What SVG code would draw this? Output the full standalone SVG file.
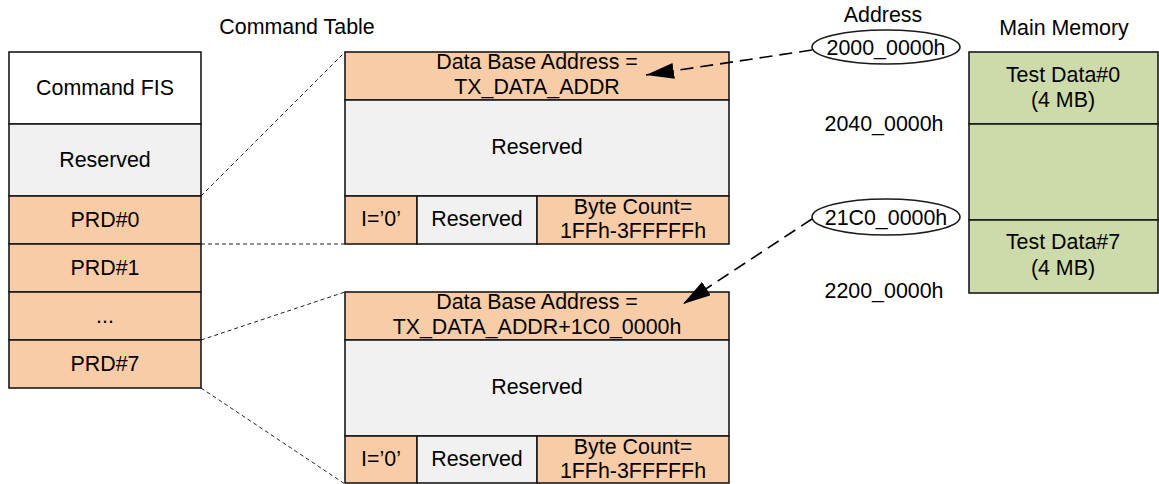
<svg xmlns="http://www.w3.org/2000/svg" width="1159" height="484" viewBox="0 0 1159 484">
<style>
text{font-family:"Liberation Sans",Arial,sans-serif;font-size:21.4px;fill:#000;text-anchor:middle}
.b{stroke:#1a1a1a;stroke-width:1.6}
.p{fill:#F9CCA8}
.g{fill:#F1F1F1}
.w{fill:#FFFFFF}
.m{fill:#CDDAAA}
.thin{stroke:#222;stroke-width:1;stroke-dasharray:4 3;fill:none}
.arr{stroke:#000;stroke-width:1.6;stroke-dasharray:13 7;fill:none}
</style>
<defs>
<marker id="ah" markerUnits="userSpaceOnUse" markerWidth="32" markerHeight="18" refX="28" refY="8" orient="auto">
<path d="M0,0 L28,8 L0,16 Z" fill="#000"/>
</marker>
</defs>
<text x="297" y="34">Command Table</text>
<text x="883" y="22">Address</text>
<text x="1064" y="35">Main Memory</text>

<g id="cmd-fis"><rect class="b w" x="9" y="52" width="192" height="72"/><text x="105" y="95">Command FIS</text></g>
<g id="cmd-reserved"><rect class="b g" x="9" y="124" width="192" height="72"/><text x="105" y="167">Reserved</text></g>
<g id="prd0"><rect class="b p" x="9" y="196" width="192" height="48"/><text x="105" y="227">PRD#0</text></g>
<g id="prd1"><rect class="b p" x="9" y="244" width="192" height="48"/><text x="105" y="275">PRD#1</text></g>
<g id="prd-dots"><rect class="b p" x="9" y="292" width="192" height="48"/><text x="105" y="323">...</text></g>
<g id="prd7"><rect class="b p" x="9" y="340" width="192" height="48"/><text x="105" y="371">PRD#7</text></g>

<g id="prd0-detail">
<rect class="b p" x="345" y="52" width="384" height="48"/>
<text x="537" y="69">Data Base Address =</text>
<text x="537" y="94">TX_DATA_ADDR</text>
<rect class="b g" x="345" y="100" width="384" height="96"/>
<text x="537" y="154">Reserved</text>
<rect class="b p" x="345" y="196" width="72" height="48"/>
<text x="381" y="226">I=’0’</text>
<rect class="b g" x="417" y="196" width="120" height="48"/>
<text x="477" y="226">Reserved</text>
<rect class="b p" x="537" y="196" width="192" height="48"/>
<text x="633" y="214">Byte Count=</text>
<text x="633" y="238">1FFh-3FFFFFh</text>
</g>

<g id="prd7-detail">
<rect class="b p" x="345" y="292" width="384" height="48"/>
<text x="537" y="309">Data Base Address =</text>
<text x="537" y="334">TX_DATA_ADDR+1C0_0000h</text>
<rect class="b g" x="345" y="340" width="384" height="96"/>
<text x="537" y="394">Reserved</text>
<rect class="b p" x="345" y="436" width="72" height="47"/>
<text x="381" y="466">I=’0’</text>
<rect class="b g" x="417" y="436" width="120" height="47"/>
<text x="477" y="466">Reserved</text>
<rect class="b p" x="537" y="436" width="192" height="47"/>
<text x="633" y="454">Byte Count=</text>
<text x="633" y="478">1FFh-3FFFFFh</text>
</g>

<g id="addr0"><ellipse class="b" fill="#fff" cx="886" cy="47" rx="74" ry="17"/><text x="886" y="55">2000_0000h</text></g>
<g id="addr1"><text x="884" y="131">2040_0000h</text></g>
<g id="addr7"><ellipse class="b" fill="#fff" cx="886" cy="217" rx="74" ry="18"/><text x="886" y="225">21C0_0000h</text></g>
<g id="addr-end"><text x="884" y="298">2200_0000h</text></g>

<g id="mem0"><rect class="b m" x="969" y="52" width="189" height="72"/><text x="1063" y="82">Test Data#0</text><text x="1063" y="107">(4 MB)</text></g>
<g id="mem-mid"><rect class="b m" x="969" y="124" width="189" height="96"/></g>
<g id="mem7"><rect class="b m" x="969" y="220" width="189" height="73"/><text x="1063" y="249">Test Data#7</text><text x="1063" y="275">(4 MB)</text></g>

<g id="connectors">
<line class="thin" x1="201" y1="196" x2="345" y2="52"/>
<line class="thin" x1="201" y1="244" x2="345" y2="244"/>
<line class="thin" x1="201" y1="340" x2="345" y2="292"/>
<line class="thin" x1="201" y1="388" x2="345" y2="484"/>
<line class="arr" x1="812" y1="50" x2="646" y2="75" marker-end="url(#ah)"/>
<line class="arr" x1="812" y1="219" x2="683" y2="304" marker-end="url(#ah)"/>
</g>
</svg>
